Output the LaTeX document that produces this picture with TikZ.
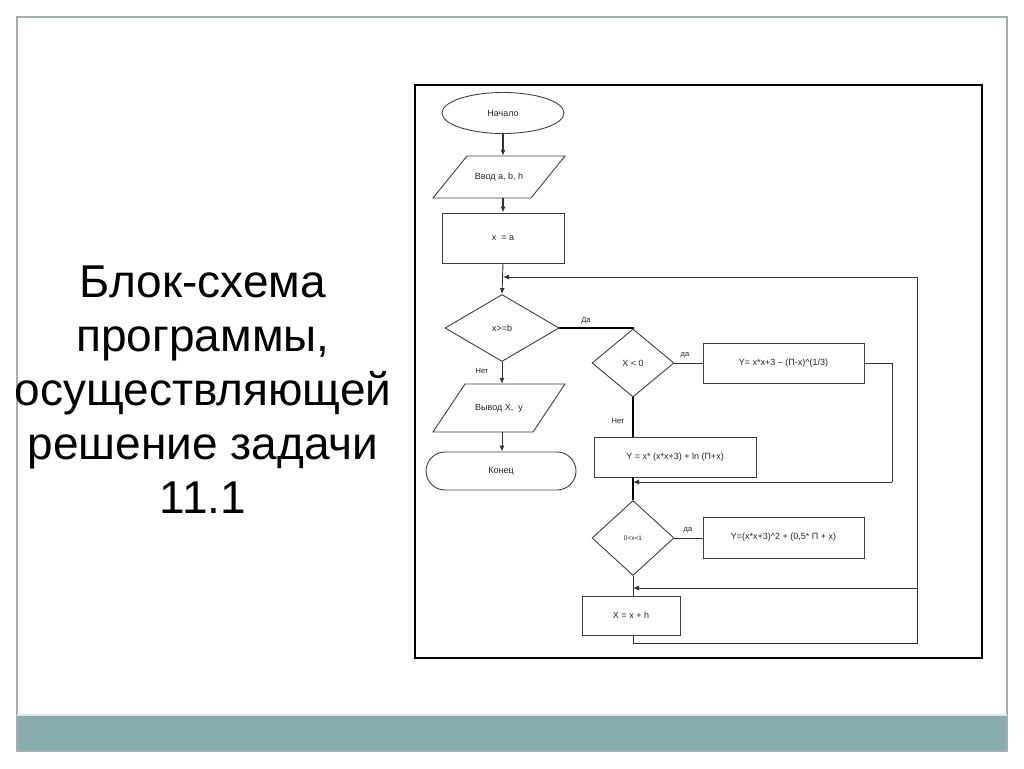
\documentclass[tikz,border=0pt]{standalone}
\usepackage{fontspec}
\setmainfont{Liberation Sans}
\usetikzlibrary{shapes.geometric,arrows.meta,calc}
\definecolor{teal1}{HTML}{88ACAC}
\definecolor{frameg}{HTML}{A3AEAE}
\begin{document}
\begin{tikzpicture}[x=1pt,y=-1pt,
  small/.style={font=\fontsize{9}{10.5}\selectfont, text=black!85},
  blk/.style={draw=black!75, line width=0.9pt, inner sep=0pt, small},
  box/.style={blk, rectangle},
  dia/.style={blk, diamond},
  ghost/.style={rectangle, inner sep=0pt, small},
  ln/.style={draw=black!80, line width=0.9pt},
  thk/.style={draw=black, line width=1.4pt},
  arr/.style={ln, -{Latex[length=6pt,width=5pt]}},
  tag/.style={small, font=\fontsize{7.5}{9}\selectfont}
]
% canvas
\useasboundingbox (0,0) rectangle (1024,768);
\fill[white] (0,0) rectangle (1024,768);
% slide frame
\fill[teal1] (17,715) rectangle (1007,751);
\draw[frameg, line width=1.5pt] (17,751) -- (17,17) -- (1007,17) -- (1007,751) -- cycle;
\draw[white!70!teal1, line width=1.2pt] (17,715) -- (1007,715);
% title
\node[align=center, font=\fontsize{46}{54}\selectfont] (title) at (203,390)
  {Блок-схема\\программы,\\осуществляющей\\решение задачи\\11.1};
% diagram frame
\draw[black, line width=1.3pt] (415,85) rectangle (982,658);

% nodes
\node[blk, ellipse, minimum width=122, minimum height=41] (start) at (503,113) {Начало};
\node[ghost, minimum width=98, minimum height=42] (inp) at (499,177) {Ввод a, b, h};
\draw[ln, draw=black!75] ($(inp.center)+(-32,-21)$) -- ($(inp.center)+(66,-21)$) -- ($(inp.center)+(32,21)$) -- ($(inp.center)+(-66,21)$) -- cycle;
\node[box, minimum width=122, minimum height=50] (xa) at (503,238) {x\ \ = a};
\node[dia, minimum width=114, minimum height=67] (c1) at (502,328) {x>=b};
\node[ghost, minimum width=98, minimum height=48] (out) at (499,408) {Вывод X, \ y};
\draw[ln, draw=black!75] ($(out.center)+(-34,-24)$) -- ($(out.center)+(66,-24)$) -- ($(out.center)+(34,24)$) -- ($(out.center)+(-66,24)$) -- cycle;
\node[box, rounded corners=19pt, minimum width=150, minimum height=38] (fin) at (501,471) {Конец};

\node[dia, minimum width=82, minimum height=68] (c2) at (633,363) {X < 0};
\node[box, minimum width=161, minimum height=40] (r1) at (783.5,363) {Y= x*x+3 – (П-x)\^{}(1/3)};
\node[box, minimum width=162, minimum height=40] (r2) at (675,457) {Y = x* (x*x+3) + ln (П+x)};
\node[dia, minimum width=82, minimum height=75] (c3) at (633,538) {\fontsize{6.5}{8}\selectfont 0<x<1};
\node[box, minimum width=161, minimum height=41] (r3) at (783.5,537.5) {Y=(x*x+3)\^{}2 + (0,5* П + x)};
\node[box, minimum width=98, minimum height=39] (r4) at (631,615.5) {X = x + h};

% junctions
\coordinate (j1) at (503,277);
\coordinate (j2) at (633,482);
\coordinate (j3) at (633,588);
\coordinate (loopR) at (917,277);
\coordinate (loopB) at (917,643);

% connectors
\draw[arr, line width=1.2pt] (start.south) -- (start.south |- inp.north);
\draw[arr, line width=1.2pt] (xa.north |- inp.south) -- (xa.north);
\draw[arr] (xa.south) -- (c1.north);
\draw[arr] (c1.south) -- (c1.south |- out.north);
\draw[arr] (c1.south |- out.south) -- (c1.south |- fin.north);
\draw[thk] (c1.east) -- (c2.north |- c1.east) -- (c2.north);
\draw[ln] (c2.east) -- (c2.east -| r1.west);
\draw[thk] (c2.south) -- (c2.south |- r2.north);
\draw[ln] (r1.east) -- (892,363) -- (892,482) coordinate (r1c);
\draw[arr] (r1c) -- (j2);
\draw[thk] (c2.south |- r2.south) -- (c3.north);
\draw[ln] (c3.east) -- (c3.east -| r3.west);
\draw[ln] (c3.south) -- (c3.south |- r4.north);
\draw[ln] (r4.south -| j3) -- (j3 |- loopB) -- (loopB) -- (loopR);
\draw[arr] (loopR) -- (j1);
\draw[arr] (loopB |- j3) -- (j3);

% labels
\node[tag] (l1) at (482,371) {Нет};
\node[tag] (l2) at (586,321) {Да};
\node[tag] (l3) at (685,355) {да};
\node[tag] (l4) at (618,421) {Нет};
\node[tag] (l5) at (688,530) {да};
\end{tikzpicture}
\end{document}
